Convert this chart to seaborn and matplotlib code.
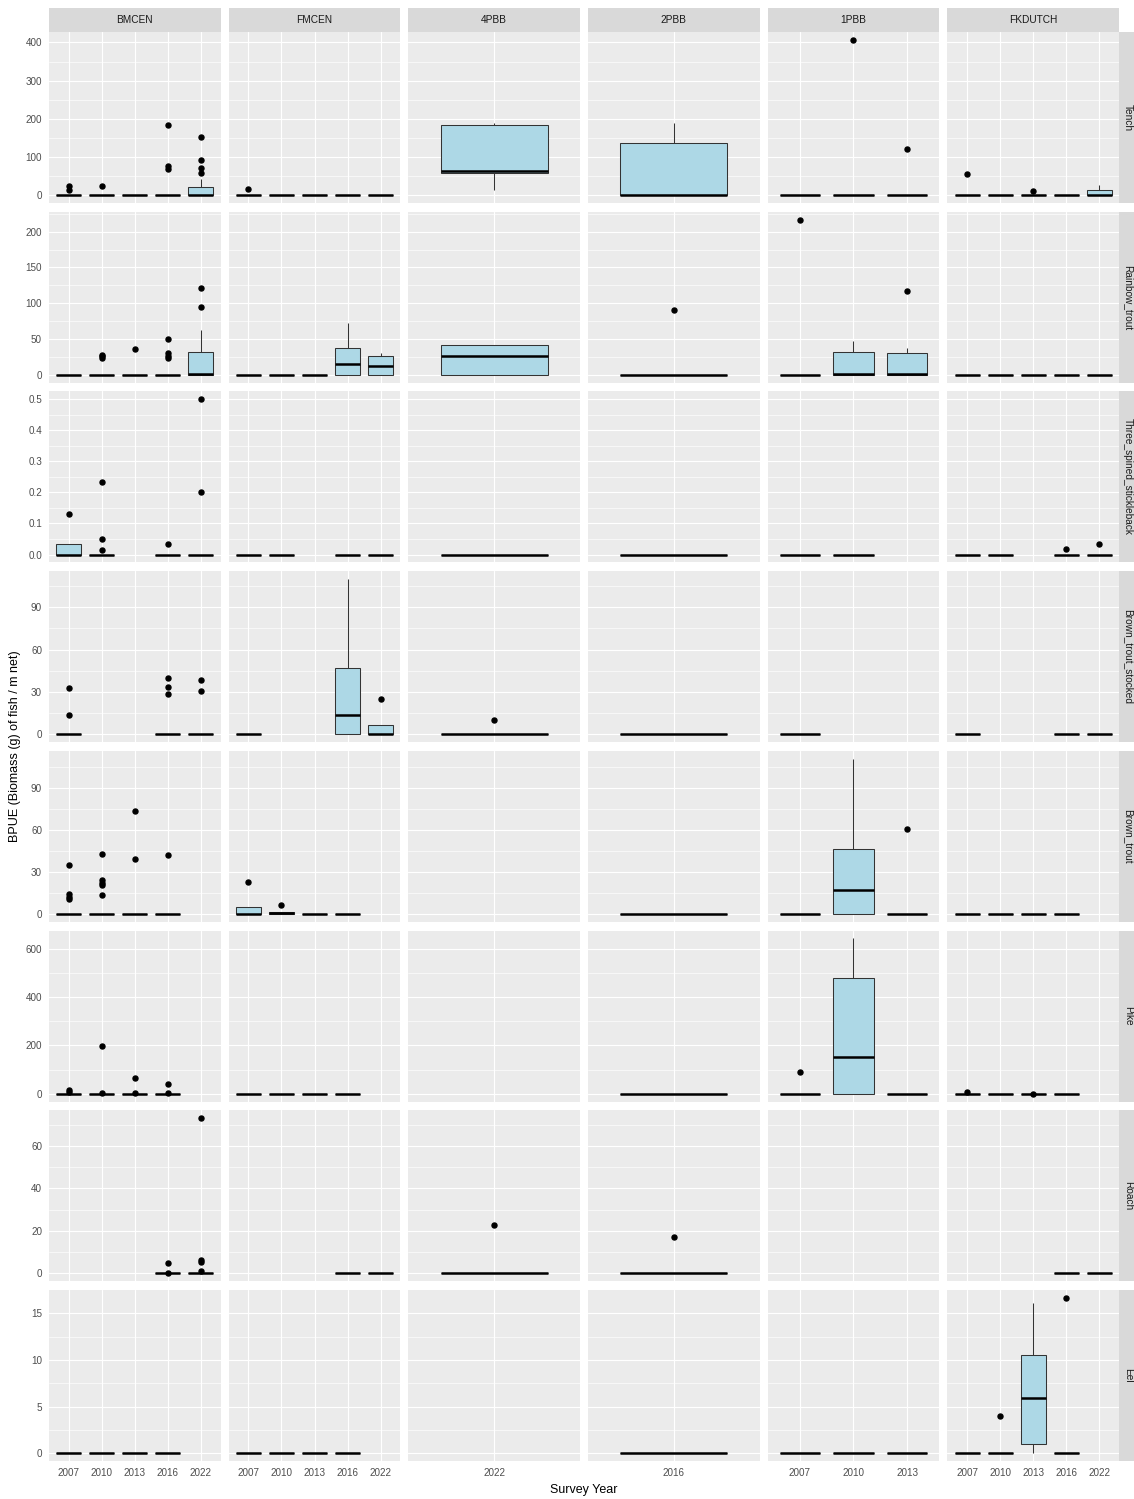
import matplotlib
matplotlib.use("Agg")
import matplotlib.pyplot as plt
from matplotlib.ticker import MultipleLocator, FormatStrFormatter
import pandas as pd
import seaborn as sns

# ---------------------------------------------------------------------------
# Survey layout
# ---------------------------------------------------------------------------
LAKES = ["BMCEN", "FMCEN", "4PBB", "2PBB", "1PBB", "FKDUTCH"]
SURVEY_YEARS = {
    "BMCEN": ["2007", "2010", "2013", "2016", "2022"],
    "FMCEN": ["2007", "2010", "2013", "2016", "2022"],
    "4PBB": ["2022"],
    "2PBB": ["2016"],
    "1PBB": ["2007", "2010", "2013"],
    "FKDUTCH": ["2007", "2010", "2013", "2016", "2022"],
}
SPECIES = ["Tench", "Rainbow_trout", "Three_spined_stickleback",
           "Brown_trout_stocked", "Brown_trout", "Pike", "Roach", "Eel"]

# nets in a survey that caught none of the species
NO_CATCH = [0.0] * 20

# BPUE per net (g of fish / m net), keyed by (lake, survey year)
tench = {
    ("BMCEN", "2007"): NO_CATCH + [24, 13],
    ("BMCEN", "2010"): NO_CATCH + [25],
    ("BMCEN", "2013"): NO_CATCH,
    ("BMCEN", "2016"): NO_CATCH + [184, 75, 68],
    ("BMCEN", "2022"): [0, 0, 0, 0, 0, 0, 0, 0, 0, 0, 1, 3, 6, 10, 15, 22,
                        41, 58, 70, 92, 151],
    ("FMCEN", "2007"): NO_CATCH + [16],
    ("FMCEN", "2010"): NO_CATCH,
    ("FMCEN", "2013"): NO_CATCH,
    ("FMCEN", "2016"): NO_CATCH,
    ("FMCEN", "2022"): NO_CATCH,
    ("4PBB", "2022"): [13, 57, 64, 184, 190],
    ("2PBB", "2016"): [0, 0, 0, 136, 190],
    ("1PBB", "2007"): NO_CATCH,
    ("1PBB", "2010"): NO_CATCH + [407],
    ("1PBB", "2013"): NO_CATCH + [120],
    ("FKDUTCH", "2007"): NO_CATCH + [54],
    ("FKDUTCH", "2010"): NO_CATCH,
    ("FKDUTCH", "2013"): NO_CATCH + [10],
    ("FKDUTCH", "2016"): NO_CATCH,
    ("FKDUTCH", "2022"): [0, 0, 0, 14, 26],
}

rainbow_trout = {
    ("BMCEN", "2007"): NO_CATCH,
    ("BMCEN", "2010"): NO_CATCH + [23, 26, 28],
    ("BMCEN", "2013"): NO_CATCH + [36],
    ("BMCEN", "2016"): NO_CATCH + [50, 31, 26, 23],
    ("BMCEN", "2022"): [0, 0, 0, 0, 0, 0, 1, 5, 15, 32, 63, 95, 121],
    ("FMCEN", "2007"): NO_CATCH,
    ("FMCEN", "2010"): NO_CATCH,
    ("FMCEN", "2013"): NO_CATCH,
    ("FMCEN", "2016"): [0, 0, 14.5, 37, 72],
    ("FMCEN", "2022"): [0, 0, 12.6, 26.6, 31],
    ("4PBB", "2022"): [0, 0, 26, 42, 42],
    ("2PBB", "2016"): NO_CATCH + [90],
    ("1PBB", "2007"): NO_CATCH + [217],
    ("1PBB", "2010"): [0, 0, 1, 32, 47],
    ("1PBB", "2013"): [0, 0, 0, 0, 1, 10, 30, 38, 117],
    ("FKDUTCH", "2007"): NO_CATCH,
    ("FKDUTCH", "2010"): NO_CATCH,
    ("FKDUTCH", "2013"): NO_CATCH,
    ("FKDUTCH", "2016"): NO_CATCH,
    ("FKDUTCH", "2022"): NO_CATCH,
}

three_spined_stickleback = {
    ("BMCEN", "2007"): [0, 0, 0, 0.034, 0.13],
    ("BMCEN", "2010"): NO_CATCH + [0.234, 0.05, 0.016],
    ("BMCEN", "2016"): NO_CATCH + [0.033],
    ("BMCEN", "2022"): NO_CATCH + [0.5, 0.2],
    ("FMCEN", "2007"): NO_CATCH,
    ("FMCEN", "2010"): NO_CATCH,
    ("FMCEN", "2016"): NO_CATCH,
    ("FMCEN", "2022"): NO_CATCH,
    ("4PBB", "2022"): NO_CATCH,
    ("2PBB", "2016"): NO_CATCH,
    ("1PBB", "2007"): NO_CATCH,
    ("1PBB", "2010"): NO_CATCH,
    ("FKDUTCH", "2007"): NO_CATCH,
    ("FKDUTCH", "2010"): NO_CATCH,
    ("FKDUTCH", "2016"): NO_CATCH + [0.017],
    ("FKDUTCH", "2022"): NO_CATCH + [0.033],
}

brown_trout_stocked = {
    ("BMCEN", "2007"): NO_CATCH + [33, 13.6],
    ("BMCEN", "2016"): NO_CATCH + [40, 33.5, 28.4],
    ("BMCEN", "2022"): NO_CATCH + [38.2, 30.5],
    ("FMCEN", "2007"): NO_CATCH,
    ("FMCEN", "2016"): [0, 0, 13.6, 47, 110],
    ("FMCEN", "2022"): [0, 0, 0, 6.8, 25],
    ("4PBB", "2022"): NO_CATCH + [10.3],
    ("2PBB", "2016"): NO_CATCH,
    ("1PBB", "2007"): NO_CATCH,
    ("FKDUTCH", "2007"): NO_CATCH,
    ("FKDUTCH", "2016"): NO_CATCH,
    ("FKDUTCH", "2022"): NO_CATCH,
}

brown_trout = {
    ("BMCEN", "2007"): NO_CATCH + [35, 14, 12.5, 11],
    ("BMCEN", "2010"): NO_CATCH + [43, 24, 22.5, 21, 13.5],
    ("BMCEN", "2013"): NO_CATCH + [73.4, 39],
    ("BMCEN", "2016"): NO_CATCH + [42],
    ("FMCEN", "2007"): [0, 0, 0, 5.2, 22.8],
    ("FMCEN", "2010"): [0, 0, 0.5, 1.5, 6.4],
    ("FMCEN", "2013"): NO_CATCH,
    ("FMCEN", "2016"): NO_CATCH,
    ("2PBB", "2016"): NO_CATCH,
    ("1PBB", "2007"): NO_CATCH,
    ("1PBB", "2010"): [0, 0, 17, 46.8, 111],
    ("1PBB", "2013"): NO_CATCH + [61],
    ("FKDUTCH", "2007"): NO_CATCH,
    ("FKDUTCH", "2010"): NO_CATCH,
    ("FKDUTCH", "2013"): NO_CATCH,
    ("FKDUTCH", "2016"): NO_CATCH,
}

pike = {
    ("BMCEN", "2007"): NO_CATCH + [16.5, 8],
    ("BMCEN", "2010"): NO_CATCH + [199, 2],
    ("BMCEN", "2013"): NO_CATCH + [66, 2],
    ("BMCEN", "2016"): NO_CATCH + [42, 2],
    ("FMCEN", "2007"): NO_CATCH,
    ("FMCEN", "2010"): NO_CATCH,
    ("FMCEN", "2013"): NO_CATCH,
    ("FMCEN", "2016"): NO_CATCH,
    ("2PBB", "2016"): NO_CATCH,
    ("1PBB", "2007"): NO_CATCH + [92],
    ("1PBB", "2010"): [0, 0, 154, 480, 643],
    ("1PBB", "2013"): NO_CATCH,
    ("FKDUTCH", "2007"): NO_CATCH + [8],
    ("FKDUTCH", "2010"): NO_CATCH,
    ("FKDUTCH", "2013"): NO_CATCH + [1],
    ("FKDUTCH", "2016"): NO_CATCH,
}

roach = {
    ("BMCEN", "2016"): NO_CATCH + [5, 0.3],
    ("BMCEN", "2022"): NO_CATCH + [73, 6.5, 5.5, 1.3],
    ("FMCEN", "2016"): NO_CATCH,
    ("FMCEN", "2022"): NO_CATCH,
    ("4PBB", "2022"): NO_CATCH + [23],
    ("2PBB", "2016"): NO_CATCH + [17],
    ("FKDUTCH", "2016"): NO_CATCH,
    ("FKDUTCH", "2022"): NO_CATCH,
}

eel = {
    ("BMCEN", "2007"): NO_CATCH,
    ("BMCEN", "2010"): NO_CATCH,
    ("BMCEN", "2013"): NO_CATCH,
    ("BMCEN", "2016"): NO_CATCH,
    ("FMCEN", "2007"): NO_CATCH,
    ("FMCEN", "2010"): NO_CATCH,
    ("FMCEN", "2013"): NO_CATCH,
    ("FMCEN", "2016"): NO_CATCH,
    ("2PBB", "2016"): NO_CATCH,
    ("1PBB", "2007"): NO_CATCH,
    ("1PBB", "2010"): NO_CATCH,
    ("1PBB", "2013"): NO_CATCH,
    ("FKDUTCH", "2007"): NO_CATCH,
    ("FKDUTCH", "2010"): NO_CATCH + [4],
    ("FKDUTCH", "2013"): [0, 1.0, 5.9, 10.55, 16.1],
    ("FKDUTCH", "2016"): NO_CATCH + [16.65],
}

BPUE_TABLES = {
    "Tench": tench,
    "Rainbow_trout": rainbow_trout,
    "Three_spined_stickleback": three_spined_stickleback,
    "Brown_trout_stocked": brown_trout_stocked,
    "Brown_trout": brown_trout,
    "Pike": pike,
    "Roach": roach,
    "Eel": eel,
}

# y break spacing for each species row
Y_STEP = [100, 50, 0.1, 30, 30, 200, 20, 5]

# ---------------------------------------------------------------------------
# Long-format table
# ---------------------------------------------------------------------------
records = []
for sp, table in BPUE_TABLES.items():
    for (lake, year), values in table.items():
        for v in values:
            records.append({"species": sp, "lake": lake, "year": year, "bpue": v})
df = pd.DataFrame(records)

# ---------------------------------------------------------------------------
# Styling
# ---------------------------------------------------------------------------
sns.set_theme(style="darkgrid")
plt.rcParams["font.family"] = ["Liberation Sans", "DejaVu Sans"]

PANEL_BG = "#EBEBEB"
STRIP_BG = "#D9D9D9"
BOX_FILL = "#ADD8E6"
EDGE = "#333333"
TICK_TXT = "#4D4D4D"
TICK_FS = 7.1
STRIP_FS = 7.3

W, H = 1134, 1499
fig, axes = plt.subplots(
    len(SPECIES), len(LAKES), figsize=(W / 100, H / 100), dpi=100,
    gridspec_kw=dict(left=49 / W, right=1119 / W, top=1 - 32 / H,
                     bottom=1 - 1461 / H, wspace=0.0466, hspace=0.052),
)
fig.patch.set_facecolor("white")

for i, sp in enumerate(SPECIES):
    sp_vals = df.loc[df["species"] == sp, "bpue"]
    lo, hi = sp_vals.min(), sp_vals.max()
    pad = 0.05 * (hi - lo)
    for j, lake in enumerate(LAKES):
        ax = axes[i, j]
        years = SURVEY_YEARS[lake]
        sub = df[(df["species"] == sp) & (df["lake"] == lake)]
        if len(sub):
            sns.boxplot(
                data=sub, x="year", y="bpue", order=years, ax=ax,
                color=BOX_FILL, saturation=1, width=0.75,
                linecolor=EDGE, linewidth=0.75, showcaps=False,
                boxprops=dict(edgecolor=EDGE, linewidth=0.75),
                whiskerprops=dict(color=EDGE, linewidth=0.75),
                medianprops=dict(color="black", linewidth=1.8,
                                 solid_capstyle="butt"),
                flierprops=dict(marker="o", markerfacecolor="black",
                                markeredgecolor="black", markersize=3.6),
            )
        ax.set_facecolor(PANEL_BG)
        for s in ax.spines.values():
            s.set_visible(False)
        ax.set_xlabel("")
        ax.set_ylabel("")

        # discrete x scale, free per lake
        ax.set_xlim(-0.6, len(years) - 1 + 0.6)
        ax.set_xticks(range(len(years)))
        ax.set_xticklabels(years)

        # continuous y scale, free per species
        ax.set_ylim(lo - pad, hi + pad)
        ax.yaxis.set_major_locator(MultipleLocator(Y_STEP[i]))
        ax.yaxis.set_minor_locator(MultipleLocator(Y_STEP[i] / 2))
        ax.yaxis.set_major_formatter(
            FormatStrFormatter("%.1f" if Y_STEP[i] < 1 else "%g"))

        ax.set_axisbelow(True)
        ax.grid(True, which="major", color="white", linewidth=0.85)
        ax.yaxis.grid(True, which="minor", color="white", linewidth=0.45)
        ax.xaxis.grid(True, which="major", color="white", linewidth=0.85)
        ax.tick_params(which="minor", length=0)

        bottom_row = i == len(SPECIES) - 1
        left_col = j == 0
        ax.tick_params(axis="x", which="major", length=3 if bottom_row else 0,
                       width=0.6, color=EDGE, pad=2,
                       labelbottom=bottom_row, labelsize=TICK_FS,
                       labelcolor=TICK_TXT)
        ax.tick_params(axis="y", which="major", length=3 if left_col else 0,
                       width=0.6, color=EDGE, pad=2,
                       labelleft=left_col, labelsize=TICK_FS,
                       labelcolor=TICK_TXT)

        # facet strips
        if i == 0:
            st = ax.inset_axes([0, 1.0, 1, 24 / 170.9])
            st.set_facecolor(STRIP_BG)
            st.set_xticks([])
            st.set_yticks([])
            for s in st.spines.values():
                s.set_visible(False)
            st.text(0.5, 0.5, lake, ha="center", va="center",
                    fontsize=STRIP_FS, color="#1A1A1A")
        if j == len(LAKES) - 1:
            st = ax.inset_axes([1.0, 0, 24 / 171.7, 1])
            st.set_facecolor(STRIP_BG)
            st.set_xticks([])
            st.set_yticks([])
            for s in st.spines.values():
                s.set_visible(False)
            st.text(0.36, 0.5, sp, ha="center", va="center", rotation=-90,
                    fontsize=STRIP_FS, color="#1A1A1A")

fig.text((49 + 1119) / 2 / W, 1 - 1490 / H, "Survey Year",
         ha="center", va="center", fontsize=9, color="black")
fig.text(15 / W, 1 - 746 / H, "BPUE (Biomass (g) of fish / m net)",
         ha="center", va="center", rotation=90, fontsize=9, color="black")

fig.savefig("out.png", dpi=100, facecolor="white")
